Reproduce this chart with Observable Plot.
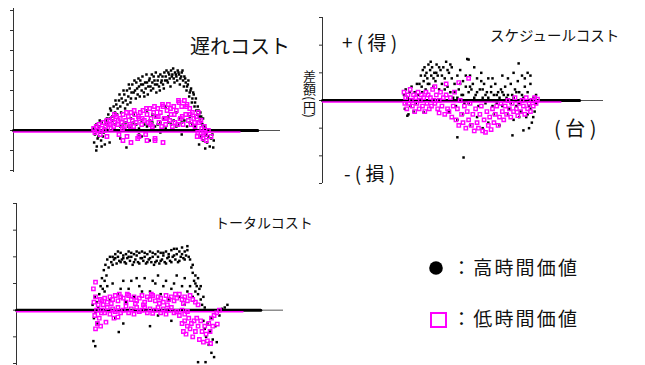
<!DOCTYPE html>
<html>
<head>
<meta charset="utf-8">
<script src="https://cdn.jsdelivr.net/npm/d3@7"></script>
<script src="https://cdn.jsdelivr.net/npm/@observablehq/plot@0.6"></script>
<style>
  html, body { margin: 0; padding: 0; background: #fff; }
  #wrap { position: relative; width: 645px; height: 365px; overflow: hidden; font-family: "Noto Sans CJK JP", "Noto Sans", sans-serif; }
  #wrap svg { position: absolute; overflow: visible; background: transparent; }
  #ylab { position: absolute; left: 302px; top: 70px; font-size: 13px; line-height: 14px; writing-mode: vertical-rl; text-orientation: mixed; color: #111; }
</style>
</head>
<body>
<div id="wrap"></div>
<script>
// ---------- data (x: 台, y: 差額 in panel units) ----------
const panelTitles = ["遅れコスト", "スケジュールコスト", "トータルコスト"];
const legendLabels = ["：高時間価値", "：低時間価値"];
const signLabels = ["+ ( 得 )", "- ( 損 )", "( 台 )"];
const yAxisLabel = "差額(円)";

const delayTicks = [-2, -1, 0, 1, 2, 3, 4, 5, 6];
const scheduleTicks = [-3, -2, -1, 0, 1, 2, 3];
const totalTicks = [-2, -1, 0, 1, 2, 3, 4];

// zero runs (vehicles with no difference), [start, end]
const highZeroRun = [0, 91.5];
const lowZeroRun = [0, 84.8];

// 遅れコスト — high value of time (black)
const delayHigh = [
[30,0.1],[30.5,-0.2],[31,0.3],[31.5,-0.4],[32,0.2],[32.5,-0.1],[33,0.4],[33.5,-0.3],[34,0.1],[34.5,0.5],[30.2,-0.6],[31.2,-0.8],[32.8,-0.5],[34.2,-0.7],[35,0.6],
[30.8,0.0],[31.8,-0.3],[32.3,0.5],[33.8,-0.1],[34.8,0.3],[31,-1.0],[33,-0.8],
[35.5,0.8],[36,0.6],[36.5,1.0],[37,0.7],[37.5,1.2],[38,0.9],[38.5,1.3],[39,1.1],[39.5,1.5],[40,1.2],
[40.5,1.6],[41,1.4],[41.5,1.8],[42,1.5],[42.5,2.0],[43,1.7],[43.5,2.1],[44,1.6],[44.5,2.3],[45,1.9],
[45.5,2.0],[46,2.4],[46.5,1.8],[47,2.2],[47.5,2.5],[48,2.0],[48.5,2.3],[49,1.7],[49.5,2.1],[50,2.4],
[50.5,2.2],[51,2.6],[51.5,2.0],[52,2.4],[52.5,2.7],[53,2.3],[53.5,1.9],[54,2.5],[54.5,2.2],[55,2.8],[55.5,2.5],[56,2.3],[56.5,2.9],
[57,2.7],[57.5,2.5],[58,2.9],[58.5,2.6],[59,3.0],[59.5,2.8],[60,2.6],[60.5,2.9],[61,2.7],[61.5,3.0],[62,2.8],[62.5,2.6],[63,2.9],[63.5,2.5],[64,2.7],
[64.5,2.4],[65,2.2],[65.5,2.5],[66,1.9],[66.5,2.1],[67,1.6],[67.5,1.8],
[35.2,0.4],[36.2,1.1],[37.3,0.5],[38.2,1.5],[38.8,0.8],[39.7,1.8],[40.3,0.9],[41.2,2.0],[41.8,1.1],[42.7,1.3],[43.2,2.3],[43.8,1.4],[44.2,1.9],
[45.3,2.5],[45.8,1.6],[46.3,2.1],[46.8,2.6],[47.3,1.7],[47.8,2.3],[48.3,2.7],[48.8,1.9],[49.3,2.4],[49.8,2.8],[50.3,1.8],[50.8,2.5],[51.3,2.2],
[51.8,2.8],[52.3,2.1],[52.8,2.5],[53.3,2.9],[53.8,2.3],[54.3,2.7],[54.8,2.0],[55.3,2.4],[55.8,2.7],[56.3,2.1],[56.8,2.5],[57.3,3.0],[57.8,2.4],
[58.3,2.8],[58.8,2.2],[59.3,2.7],[59.8,3.1],[60.3,2.4],[60.8,2.8],[61.3,2.5],[61.8,2.9],[62.3,2.3],[62.8,2.7],[63.3,3.0],[63.8,2.2],[64.3,2.6],
[64.8,2.0],[65.3,2.3],[65.8,1.7],[66.3,2.0],[66.8,1.4],[67.3,1.9],[67.8,1.2],[68.3,1.6],[68.8,0.8],[69.3,1.0],[69.8,0.5],[70.3,0.7],[70.8,0.3],
[68,1.4],[68.5,1.0],[69,1.2],[69.5,0.7],[70,0.9],[70.5,0.4],[71,0.6],[71.5,0.2],[72,0.1],
[70.2,-0.3],[71,-0.5],[72,-0.2],[72.5,-0.6],[73,-0.3],[73.5,-0.8],[74,-0.4],[74.5,-0.2],[75,-0.5],[71.8,-0.9],[69.5,-0.7],[74.8,-0.85],
[38,0.3],[40,0.2],[42,0.4],[44,0.1],[46,0.3],[48,0.5],[50,0.2],[52,0.4],[54,0.3],[56,0.6],[58,0.4],[60,0.5],[62,0.3],[64,0.5],[66,0.4],[68,0.2],
[39,0.0],[41,0.3],[43,0.2],[45,0.4],[47,0.1],[49,0.3],[51,0.5],[53,0.2],[55,0.4],[57,0.1],[59,0.3],[61,0.2],[63,0.4],[65,0.2],[67,0.3],
[44,0.6],[52,0.8],[58,0.7],[62,0.6],[66,0.7],
[45,0.8],[50,1.0],[53,0.7],[57,1.2],[61,0.9],[47,-0.2],[55,-0.1],[63,-0.2],
[36,-0.6],[40,-0.4],[42.3,-0.85],[48,-0.3],[51,-0.5]
];
// 遅れコスト — low value of time (magenta)
const delayLow = [
[30,0.1],[30.5,-0.1],[31,0.2],[31.5,0.0],[32,0.3],[32.5,-0.2],[33,0.1],[33.5,0.4],[34,0.0],[34.5,0.2],[35,-0.3],[35.5,0.3],
[36,0.5],[36.5,0.1],[37,0.6],[37.5,0.2],[38,0.4],[38.5,0.7],[39,0.3],[39.5,-0.2],[40,0.6],[40.5,0.4],[41,0.8],[41.5,0.2],[42,0.5],[42.5,-0.3],
[43,0.7],[43.5,0.3],[44,0.9],[44.5,0.5],[45,0.2],[45.5,0.8],[46,0.4],[46.5,-0.4],[47,0.6],[47.5,0.9],[48,0.3],[48.5,1.0],[49,0.5],[49.5,-0.2],
[50,0.8],[50.5,0.4],[51,1.1],[51.5,0.6],[52,0.2],[52.5,0.9],[53,-0.5],[53.5,0.7],[54,1.1],[54.5,0.4],[55,0.9],[55.5,0.2],[56,1.2],[56.5,0.6],
[57,0.3],[57.5,1.0],[58,1.3],[58.5,0.5],[59,0.8],[59.5,0.2],[60,1.2],[60.5,0.4],[61,1.0],[61.5,0.3],[62,1.4],[62.5,0.6],[63,1.2],[63.5,0.3],
[64,1.5],[64.5,0.8],[65,1.3],[65.5,0.5],[66,1.1],[66.5,0.3],[67,0.9],[67.5,0.6],[68,0.2],[68.5,0.7],[69,-0.1],[69.5,0.4],[70,-0.3],[70.5,0.1],
[71,-0.4],[71.5,0.2],[72,-0.2],[73,0.0],[74,-0.3],
[35,0.5],[36.2,0.3],[37.8,0.8],[39.2,0.5],[40.8,0.1],[42.3,0.9],[43.8,0.2],[45.2,1.0],[46.8,0.7],[48.2,0.6],[49.8,1.1],[51.3,0.3],[52.8,1.2],
[54.2,0.7],[55.8,1.3],[57.2,0.6],[58.8,1.1],[60.2,0.8],[61.8,1.5],[63.2,0.7],[64.8,1.2],[66.2,0.8],[67.8,0.4],[69.2,0.9],[70.2,0.5],[71.2,-0.1],
[72.2,-0.5],[68.8,-0.3],
[41,-0.5],[44,-0.6],[47,-0.3],[50,-0.5],[56,-0.6],[53,-0.4]
];

// スケジュールコスト — high (black)
const scheduleHigh = [
[29,0.2],[29.3,-0.3],[29.6,0.4],[30,-0.1],[30.3,0.1],[30.6,-0.5],[31,0.3],[31.3,-0.2],[31.7,0.5],[32,0.0],[32.4,-0.4],[32.8,0.3],[33.2,-0.1],[33.6,0.6],[34,0.2],[30.2,-0.55],[36,-0.43],
[34.5,0.6],[35,0.9],[35.3,0.5],[35.7,1.1],[36,0.7],[36.3,1.2],[36.7,0.4],[37,1.0],[37.3,0.8],[37.7,1.3],[38,0.6],[38.3,1.1],[38.7,0.9],[39,1.2],
[39.4,0.5],[39.8,1.0],[40.2,0.7],[40.6,1.3],[41,0.9],[41.5,0.4],[42,1.1],[42.5,0.6],[43,1.2],[43.5,0.8],[44,1.4],[44.5,0.5],[45,1.0],[45.5,1.3],[52,1.48],
[35.5,0.3],[36.5,0.9],[37.5,0.6],[38.5,1.4],[39.5,0.8],[40.5,1.0],[41.5,1.2],[42.5,0.9],[43.5,0.4],[44.5,1.1],[46,1.2],[47,0.3],[48,0.1],[49,0.6],
[45.5,0.3],[46,0.8],[46.5,0.1],[47,0.6],[47.5,-0.2],[48,0.9],[48.5,0.4],[49,1.1],[49.5,0.2],[50,0.7],[50.5,-0.1],[51,0.5],[51.5,1.5],[52,0.3],
[52.5,0.9],[53,0.0],[53.5,0.6],[54,1.2],[54.5,0.2],[55,0.8],[55.5,-0.2],[56,0.4],[56.5,1.0],[57,0.1],[57.5,0.6],[58,-0.1],[58.5,0.3],[59,0.8],
[59.5,0.0],[60,0.5],[60.5,-0.2],[61,0.2],[61.5,0.6],[62,-0.1],[62.5,0.3],[63,0.0],[63.5,0.4],[64,-0.2],[64.5,0.2],
[50,0.2],[51,0.9],[52,-0.1],[53,0.4],[54,0.1],[55,0.3],[56,0.0],[57,0.4],[58,0.2],[59,0.1],[60,0.3],[61,0.0],[62,0.2],[63,0.1],[64,0.3],
[65,0.0],[66,0.2],[67,-0.1],[68,0.1],[69,0.3],[70,-0.1],[71,0.2],[72,0.0],[73,-0.5],[74,-0.3],[75,-0.6],[76,-0.1],
[52.5,0.5],[56.5,0.7],[60.5,0.8],[64,0.9],[66,-0.5],[68,-0.7],[70,-0.6],[72,0.8],[73,1.0],[74,0.9],
[65,0.5],[65.5,0.1],[66,0.8],[66.5,-0.3],[67,0.6],[67.5,0.2],[68,1.0],[68.5,0.4],[69,-0.2],[69.5,0.7],[69.8,1.34],[70,0.3],[70.5,-0.4],[71,0.9],
[71.5,0.1],[72,0.5],[72.5,-0.6],[73,0.3],[73.5,-0.2],[74,0.6],[74.5,-0.8],[75,0.1],[75.5,-0.4],[76,0.2],[71.5,-1.08],[73.5,-1.0],
[45,-0.4],[48,-0.7],[50,-0.5],[52.5,-0.9],[55,-0.6],[57,-1.0],[59,-0.8],[61,-0.5],[63,-0.9],[48,-1.33],[50.2,-2.06],[67.6,-1.26]
];
// スケジュールコスト — low (magenta)
const scheduleLow = [
[29,0.3],[29.3,-0.1],[29.6,0.1],[30,-0.3],[30.4,0.2],[30.8,-0.1],[31.2,0.4],[31.6,0.0],[32,-0.2],[32.4,0.2],[32.8,-0.4],[33.2,0.1],[33.6,-0.1],
[34,0.3],[34.4,-0.3],[34.8,0.0],[35.2,0.2],[35.6,-0.2],[36,0.1],[36.4,-0.4],[36.8,0.3],[37.2,-0.1],[37.6,0.2],[38,-0.3],[38.4,0.1],[38.8,-0.2],
[39.2,0.4],[39.6,0.0],[40,-0.1],[40.5,0.2],[41,-0.3],[41.5,0.0],[42,0.3],[42.5,-0.2],[43,0.1],[43.5,-0.5],[44,0.2],[44.5,-0.3],[41.5,-0.45],
[45,-0.4],[45.5,0.1],[46,-0.6],[46.5,-0.2],[47,0.3],[47.5,-0.7],[48,-0.3],[48.5,-0.9],[49,0.0],[49.5,-0.5],[50,-0.8],[50.5,-0.2],[51,-1.0],
[51.5,-0.4],[52,0.8],[52,-0.7],[52.5,-0.1],[53,-0.9],[53.5,-0.5],[54,-1.1],[54.5,-0.3],[55,-0.8],[55.5,-1.0],[56,-0.5],[56.5,-0.2],[57,-1.1],
[57.5,-0.7],[58,-1.15],[58.5,-0.4],[59,-0.9],[59.5,-0.6],[60,-1.05],[60.5,-0.3],[61,-0.8],[61.5,-0.5],[62,-0.2],[62.5,-0.9],[63,-0.6],[63.5,-0.1],
[64,-0.4],[64.5,-0.7],[48.5,0.65],[40,0.5],[44,0.6],
[65,-0.2],[65.5,-0.5],[66,0.0],[66.5,-0.3],[67,-0.6],[67.5,-0.1],[68,-0.4],[68.5,0.1],[69,-0.3],[69.5,-0.55],[70,-0.1],[70.5,-0.4],[71,0.0],
[71.5,-0.2],[72,-0.5],[72.5,0.1],[73,-0.3],[73.5,-0.1],[74,-0.4],[74.5,0.0],[75,-0.2],[75.5,0.1],[76,-0.1],[76.5,0.05]
];

// トータルコスト — high (black)
const totalHigh = [
[28.5,0.2],[29,-0.3],[29.3,0.5],[29.6,-0.1],[30,0.3],[30.3,-0.5],[30.6,0.1],[28.8,-1.16],[29.5,-1.35],[31,0.6],
[31.5,0.9],[32,1.2],[32.3,0.8],[32.7,1.5],[33,1.1],[33.3,1.7],[33.7,1.3],[34,1.9],[34.5,1.6],[35,2.0],
[35.5,1.8],[36,2.0],[36.5,1.9],[37,2.1],[37.5,1.75],[38,2.0],[38.5,1.85],[39,2.15],[39.5,1.9],[40,2.05],[40.5,1.8],[41,2.1],[41.5,1.95],[42,2.2],
[42.5,1.85],[43,2.0],[43.5,1.7],[44,2.1],[44.5,1.9],[45,2.05],[45.5,1.8],[46,2.15],[46.5,1.95],[47,2.2],[47.5,1.85],[48,2.0],[48.5,1.75],[49,2.1],
[49.5,1.9],[50,2.2],[50.5,1.8],[51,2.0],[51.5,1.7],[52,2.1],[52.5,1.85],[53,2.0],[53.5,1.75],[54,2.15],[54.5,1.9],[55,2.05],[55.5,1.8],[56,2.2],
[56.5,1.95],[57,2.1],[57.5,1.85],[58,2.25],[58.5,2.0],[59,2.3],[59.5,1.9],[60,2.1],[60.5,1.8],[61,2.2],[61.5,2.0],[62,2.35],[62.5,1.95],[63,2.2],
[63.5,2.05],[64,2.4],[64.5,2.0],
[36,1.7],[37,1.95],[38,2.2],[39,1.8],[40,1.95],[41,1.75],[42,2.0],[43,2.15],[44,1.8],[45,2.2],[46,1.75],[47,1.95],[48,2.15],[49,1.8],[50,1.95],
[51,2.15],[52,1.8],[53,2.2],[54,1.85],[55,2.15],[56,1.75],[57,2.0],[58,1.8],[59,2.05],[60,2.3],[61,1.85],[62,2.1],[63,1.9],[64,2.25],
[33,0.7],[36,1.0],[38,0.6],[40,1.1],[42,0.8],[44,0.5],[46,0.9],[48,1.2],[50,0.7],[52,1.0],[54,0.6],[56,1.1],[58,0.8],[60,1.3],[62,0.9],[64,0.7],
[34,0.9],[39,0.8],[43,1.1],[47,0.7],[51,1.1],[55,0.9],[59,1.0],[63,1.2],[65,0.9],[66,0.5],[67,1.0],[68,1.2],[69,0.9],
[45,1.2],[53,1.3],[35,0.4],[41,0.3],[57,0.4],[61,0.5],[63,0.2],
[65,1.9],[65.5,1.6],[66,1.4],[66.5,1.1],[67,1.3],[67.5,0.9],[68,0.6],[68.5,0.8],[69,0.4],[69.5,0.2],[70,0.5],[70.5,0.1],[66,1.7],[67,0.7],
[70,-0.4],[70.5,-0.7],[71,-1.0],[71.5,-0.5],[72,-1.3],[72.5,-0.8],[73,-1.6],[73.5,-1.1],[74,-1.76],[74.5,-0.6],[75,-1.2],[70.8,-1.95],[68,-1.95],
[73,-0.3],[76,-0.2],[77,0.05],[78,0.1],[79,0.2],
[38.3,-0.82],[50,-0.6],[37,-0.3],[40,-0.5],[53,-0.2],[58,-0.4]
];
// トータルコスト — low (magenta)
const totalLow = [
[29.6,1.05],[28.8,0.8],[29,0.3],[29.3,-0.2],[29.6,0.5],[30,0.0],[30.3,-0.5],[30.6,0.2],[31,-0.3],[31.4,0.4],[29.6,-0.7],[31.8,-0.1],
[32,0.35],[33,0.45],[34,0.3],[35,0.5],[36,0.4],[37,0.55],[38,0.35],[39,0.5],[40,0.45],[41,0.3],[42,0.55],[43,0.4],[44,0.5],[45,0.35],[46,0.45],
[47,0.55],[48,0.3],[49,0.5],[50,0.4],[51,0.55],[52,0.35],[53,0.5],[54,0.45],[55,0.3],[56,0.55],[57,0.4],[58,0.5],[59,0.35],[60,0.45],[61,0.6],
[62,0.4],[63,0.5],[64,0.35],[65,0.55],[66,0.4],[67,0.3],[68,0.2],
[32.5,0.2],[35.5,0.25],[38.5,0.6],[41.5,0.6],[44.5,0.25],[47.5,0.2],[50.5,0.6],[53.5,0.25],[56.5,0.2],[59.5,0.6],[62.5,0.25],
[32,0.0],[33,-0.1],[34,0.1],[35,-0.15],[36,0.05],[37,-0.05],[38,0.1],[39,-0.1],[40,0.0],[41,0.15],[42,-0.1],[43,0.05],[44,-0.15],[45,0.1],
[46,-0.05],[47,0.0],[48,0.12],[49,-0.1],[50,0.05],[51,-0.12],[52,0.0],[53,0.1],[54,-0.1],[55,0.05],[56,-0.15],[57,0.0],[58,0.1],[59,-0.1],
[60,-0.05],[61,-0.2],[62,0.0],[63,-0.15],[64,-0.05],[33.5,-0.45],[36.5,-0.3],[38,-0.26],[31.5,-0.6],
[62,-0.5],[62.5,-0.8],[63,-0.4],[63.5,-0.9],[64,-0.6],[64.5,-0.3],[65,-0.7],[65.5,-0.5],[66,-1.0],[66.5,-0.4],[67,-0.8],[67.5,-0.3],[68,-0.6],
[68.5,-1.1],[69,-0.4],[69.5,-0.8],[70,-1.2],[70.5,-0.6],[71,-0.9],[71.5,-1.15],[72,-0.5],[72.7,-1.25],[72.5,-0.8],[73,-0.3],[73.5,-0.6],[74,-0.2],
[75.2,-0.52],[75,-0.1],[76,0.0]
];

// ---------- drawing ----------
const MAGENTA = "#ff00ff";
const wrap = document.getElementById("wrap");

function panel(o) {
  const svg = Plot.plot({
    width: o.width, height: o.height,
    marginLeft: o.ml, marginRight: o.mr, marginTop: o.mt, marginBottom: o.mb,
    x: {domain: [0, 100], axis: null},
    y: {domain: o.yDomain, axis: null},
    style: {background: "transparent", overflow: "visible"},
    marks: [
      Plot.ruleY([0], {x1: 0, x2: 100, stroke: "#555", strokeWidth: 1}),
      Plot.ruleX([0], {y1: o.axisExtent[0], y2: o.axisExtent[1], stroke: "#333", strokeWidth: 1}),
      Plot.axisY(o.ticks, {tickSize: 3, tickFormat: () => "", stroke: "#333"}),
      Plot.line(highZeroRun.map(x => [x, 0]), {x: d => d[0], y: d => d[1], stroke: "black", strokeWidth: 3}),
      Plot.dot(o.high, {x: d => d[0], y: d => d[1], symbol: "square", r: 1.4, fill: "black"}),
      Plot.line(lowZeroRun.map(x => [x, 0]), {x: d => d[0], y: d => d[1], stroke: MAGENTA, strokeWidth: 1.5, dy: 1.5}),
      Plot.dot(o.low, {x: d => d[0], y: d => d[1], symbol: "square", r: 1.9, fill: "none", stroke: MAGENTA, strokeWidth: 1.4})
    ]
  });
  svg.style.left = o.left + "px";
  svg.style.top = o.top + "px";
  wrap.appendChild(svg);
}

panel({left: 0, top: 0, width: 300, height: 180, ml: 13, mr: 20, mt: 8, mb: 8,
  yDomain: [-2.1, 6.1], axisExtent: [-2.1, 6.1], ticks: delayTicks, high: delayHigh, low: delayLow});
panel({left: 300, top: 0, width: 320, height: 190, ml: 22, mr: 17, mt: 17, mb: 7,
  yDomain: [-3, 3], axisExtent: [-3, 3], ticks: scheduleTicks, high: scheduleHigh, low: scheduleLow});
panel({left: 0, top: 190, width: 300, height: 175, ml: 16, mr: 17, mt: 13, mb: 2,
  yDomain: [-2, 4], axisExtent: [-2.1, 4], ticks: totalTicks, high: totalHigh, low: totalLow});

// ---------- text overlay & legend ----------
const ov = d3.select(wrap).append("svg")
  .attr("width", 645).attr("height", 365)
  .style("left", "0px").style("top", "0px")
  .attr("font-family", "'Noto Sans CJK JP', sans-serif")
  .attr("fill", "#111");

ov.append("text").attr("x", 190).attr("y", 54).attr("font-size", 20).text(panelTitles[0]);
ov.append("text").attr("x", 490).attr("y", 41).attr("font-size", 14.5).text(panelTitles[1]);
ov.append("text").attr("x", 215).attr("y", 228).attr("font-size", 14).text(panelTitles[2]);

ov.append("text").attr("x", 342).attr("y", 50).attr("font-size", 19).attr("xml:space", "preserve").text(signLabels[0]);
ov.append("text").attr("x", 344).attr("y", 181).attr("font-size", 19).attr("xml:space", "preserve").text(signLabels[1]);
ov.append("text").attr("x", 554).attr("y", 136).attr("font-size", 20).attr("xml:space", "preserve").text(signLabels[2]);

ov.append("circle").attr("cx", 436).attr("cy", 268).attr("r", 6.8).attr("fill", "black");
ov.append("rect").attr("x", 431).attr("y", 313).attr("width", 15).attr("height", 14)
  .attr("fill", "none").attr("stroke", MAGENTA).attr("stroke-width", 2);
ov.append("text").attr("x", 452).attr("y", 275).attr("font-size", 19).attr("letter-spacing", 2.2).text(legendLabels[0]);
ov.append("text").attr("x", 452).attr("y", 326).attr("font-size", 19).attr("letter-spacing", 2.2).text(legendLabels[1]);

d3.select(wrap).append("div").attr("id", "ylab").text(yAxisLabel);
</script>
</body>
</html>
